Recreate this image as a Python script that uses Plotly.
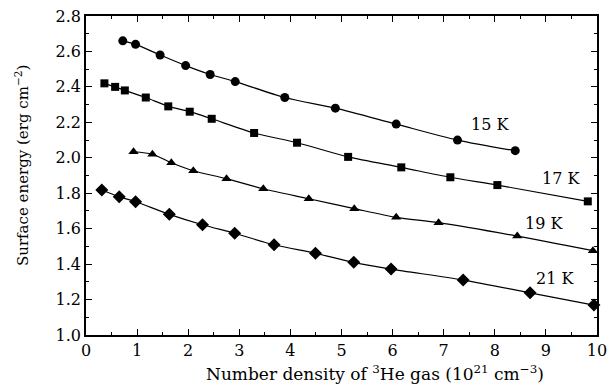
import plotly.graph_objects as go

# 15 K (circles)
x15 = [0.72, 0.97, 1.45, 1.95, 2.43, 2.92, 3.89, 4.88, 6.07, 7.27, 8.40]
y15 = [2.66, 2.64, 2.58, 2.52, 2.47, 2.43, 2.34, 2.28, 2.19, 2.10, 2.04]
# 17 K (squares)
x17 = [0.36, 0.57, 0.76, 1.17, 1.61, 2.03, 2.46, 3.29, 4.13, 5.13, 6.17, 7.13, 8.05, 9.82]
y17 = [2.42, 2.40, 2.38, 2.34, 2.29, 2.26, 2.22, 2.14, 2.085, 2.005, 1.946, 1.89, 1.846, 1.754]
# 19 K (triangles)
x19 = [0.93, 1.30, 1.67, 2.10, 2.75, 3.47, 4.36, 5.25, 6.07, 6.90, 8.44, 9.92]
y19 = [2.034, 2.02, 1.972, 1.927, 1.882, 1.825, 1.769, 1.713, 1.664, 1.634, 1.558, 1.476]
# 21 K (diamonds)
x21 = [0.31, 0.65, 0.97, 1.63, 2.28, 2.91, 3.68, 4.49, 5.24, 5.97, 7.38, 8.69, 9.94]
y21 = [1.818, 1.78, 1.752, 1.681, 1.622, 1.574, 1.509, 1.461, 1.41, 1.372, 1.31, 1.238, 1.169]

labels = ["15 K", "17 K", "19 K", "21 K"]
label_x = [7.90, 9.30, 8.97, 9.17]
label_y = [2.185, 1.884, 1.63, 1.32]

x_title = "Number density of <sup>3</sup>He gas (10<sup>21</sup> cm<sup>\u22123</sup>)"
y_title = "Surface energy (erg cm<sup>\u22122</sup>)"

series = [
    (x15, y15, "circle", 9),
    (x17, y17, "square", 8),
    (x19, y19, "triangle-up", 9),
    (x21, y21, "diamond", 10),
]

FONT = "DejaVu Serif"
fig = go.Figure()
for (xs, ys, sym, sz), name in zip(series, labels):
    fig.add_trace(go.Scatter(
        x=xs, y=ys, mode="lines+markers", name=name,
        line=dict(color="black", width=1.2, shape="spline", smoothing=0.8),
        marker=dict(symbol=sym, size=sz, color="black"),
        cliponaxis=False, showlegend=False,
    ))

for t, lx, ly in zip(labels, label_x, label_y):
    fig.add_annotation(x=lx, y=ly, text=t, showarrow=False,
                       font=dict(family=FONT, size=16, color="black"))

fig.add_annotation(xref="paper", yref="paper", x=0.565, y=-0.12, text=x_title,
                   xanchor="center", yanchor="middle",
                   showarrow=False, font=dict(family=FONT, size=17, color="black"))
fig.add_annotation(xref="paper", yref="paper", x=-0.125, y=0.53, text=y_title,
                   xanchor="center", yanchor="middle",
                   textangle=-90, showarrow=False,
                   font=dict(family=FONT, size=15, color="black"))

axis_common = dict(
    showline=True, linecolor="black", linewidth=1.5, mirror="ticks",
    ticks="inside", ticklen=6, tickwidth=1, tickcolor="black",
    showgrid=False, zeroline=False, automargin=False,
    tickfont=dict(family=FONT, size=16, color="black"),
)

fig.update_xaxes(range=[0, 10], dtick=1, tick0=0,
                 minor=dict(dtick=0.5, ticks="inside", ticklen=3, tickcolor="black"),
                 **axis_common)
fig.update_yaxes(range=[1.0, 2.8], dtick=0.2, tick0=1.0, tickformat=".1f",
                 minor=dict(dtick=0.1, ticks="inside", ticklen=3, tickcolor="black"),
                 **axis_common)

fig.update_layout(
    width=609, height=385,
    margin=dict(l=86, r=12, t=16, b=50),
    paper_bgcolor="white", plot_bgcolor="white",
    font=dict(family=FONT, color="black"),
)
fig.write_html("out.html", config={"displayModeBar": False},
               post_script="document.body.style.margin='0';")
